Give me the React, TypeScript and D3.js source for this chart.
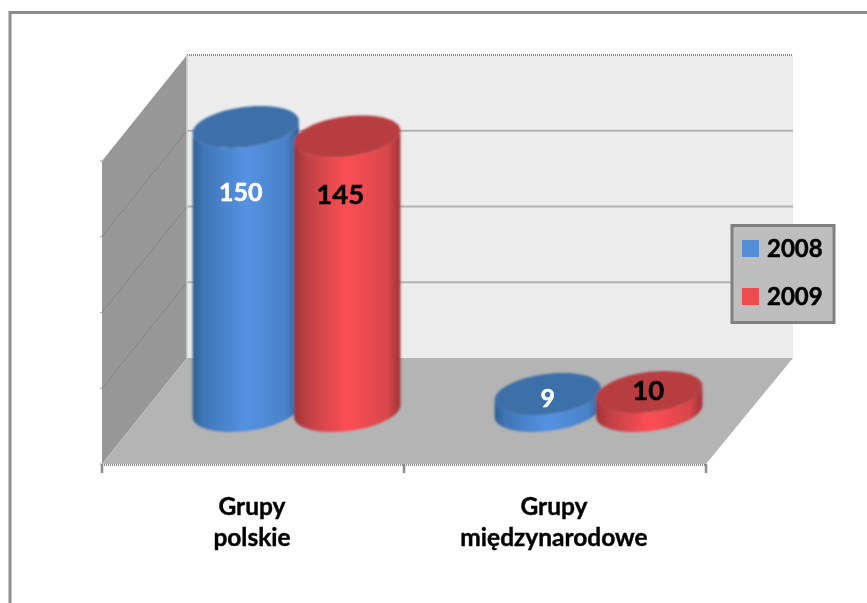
import React from "react";
import * as d3 from "d3";

const categories = [["Grupy", "polskie"], ["Grupy", "międzynarodowe"]];
const seriesNames = ["2008", "2009"];
const values2008 = [150, 9];
const values2009 = [145, 10];
const axisMax = 160;
const gridValues = [0, 40, 80, 120, 160];
const seriesValues = [values2008, values2009];
const labelColors = ["#ffffff", "#000000"];
const labelSizes = [25, 27.5];
// [series][category]: data label offset from the centre of the cylinder's top
const labelShift = [[[-5, 74], [0, 13]], [[-7, 68], [-1, 8]]];

const W = 867, H = 603;
const wall = { x0: 187, x1: 793, top: 55, bottom: 358 };
const front = { x0: 102, x1: 706, y: 464 };
const depthDx = wall.x0 - front.x0;
const midY = (wall.bottom + front.y) / 2;

const y = d3.scaleLinear().domain([0, axisMax]).range([wall.bottom, wall.top]);
const xFront = d3.scaleBand<number>().domain([0, 1]).range([front.x0, front.x1]);
const xSeries = d3.scaleBand<number>().domain([0, 1]).range([-100.5, 102.5]);

const ax = 51, sk = 15, ry = 21;
const ptAt = (cx: number, cy: number, t: number): [number, number] => [
  cx + ax * Math.cos(t) + sk * Math.sin(t),
  cy - ry * Math.sin(t),
];
const tMax = Math.atan2(sk, ax);
const line = d3.line<number[]>().x(d => d[0]).y(d => d[1]);
const ts = d3.range(0, 73).map(i => (i / 72) * 2 * Math.PI);
const ellipseD = (cx: number, cy: number) => line(ts.map(t => ptAt(cx, cy, t))) + "Z";
const sideD = (cx: number, top: number, base: number) => {
  const low = d3.range(0, 37).map(i => tMax + Math.PI + (i / 36) * Math.PI);
  const basePts = low.map(t => ptAt(cx, base, t));
  const topPts = low.slice().reverse().map(t => ptAt(cx, top, t));
  return line([...basePts, ...topPts]) + "Z";
};

const sideStops = [
  [["0%", "#2f5f92"], ["10%", "#3f76b8"], ["50%", "#5592e2"], ["88%", "#4a82c8"], ["100%", "#2f5f92"]],
  [["0%", "#9e3337"], ["12%", "#c04045"], ["50%", "#fd4f54"], ["88%", "#d8464b"], ["100%", "#9e3337"]],
];
const topColors = ["#3e70a8", "#b83c40"];
const legendColors = ["#558ed5", "#ee4b50"];
const FONT = "Lato, 'Open Sans', sans-serif";

const cylX = (c: number, s: number) =>
  xFront(c)! + xFront.bandwidth() / 2 + depthDx / 2 + xSeries(s)! + xSeries.bandwidth() / 2;
const cylTop = (v: number) => midY - (wall.bottom - y(v));

export default function App() {
  return (
    <svg width={W} height={H} viewBox={`0 0 ${W} ${H}`} style={{ position: "fixed", left: 0, top: 0 }}>
      <defs>
        <pattern id="dither" width="2" height="2" patternUnits="userSpaceOnUse">
          <rect width="2" height="2" fill="#9b9b9b" />
          <rect width="1" height="1" fill="#949494" />
          <rect x="1" y="1" width="1" height="1" fill="#949494" />
        </pattern>
        <filter id="soft" x="-5%" y="-5%" width="110%" height="110%">
          <feGaussianBlur stdDeviation="0.8" />
        </filter>
        <filter id="softText" x="-5%" y="-5%" width="110%" height="110%">
          <feGaussianBlur stdDeviation="0.3" />
        </filter>
        {sideStops.map((stops, i) => (
          <linearGradient key={i} id={`side${i}`} x1="0" x2="1" y1="0" y2="0">
            {stops.map(([o, c]) => <stop key={o} offset={o} stopColor={c} />)}
          </linearGradient>
        ))}
      </defs>
      <rect width={W} height={H} fill="#fff" />
      <path d={`M10,${H}V12.5H${W}`} fill="none" stroke="#8c8c8c" strokeWidth={3} />

      <rect x={wall.x0} y={wall.top} width={wall.x1 - wall.x0} height={wall.bottom - wall.top} fill="#ececec" />
      <path
        d={`M${wall.x0},${wall.top}L${front.x0},${wall.top + front.y - wall.bottom}V${front.y}L${wall.x0},${wall.bottom}Z`}
        fill="url(#dither)"
      />
      <path d={`M${wall.x0},${wall.bottom}H${wall.x1}L${front.x1},${front.y}H${front.x0}Z`} fill="#b4b4b4" />

      {gridValues.map(v => (
        <g key={v}>
          {v > 0 && v < axisMax && (
            <>
              <line x1={wall.x0} x2={wall.x1} y1={y(v)} y2={y(v)} stroke="#b2b2b2" strokeWidth={2} />
              <line x1={wall.x0} y1={y(v)} x2={front.x0} y2={y(v) + front.y - wall.bottom} stroke="#858585" strokeWidth={1} />
            </>
          )}
          <line x1={front.x0 - 2} x2={front.x0} y1={y(v) + front.y - wall.bottom} y2={y(v) + front.y - wall.bottom} stroke="#a8a8a8" strokeWidth={1} />
        </g>
      ))}
      <line x1={wall.x0} x2={wall.x1} y1={wall.top} y2={wall.top} stroke="#8c8c8c" strokeWidth={2} strokeDasharray="1 1" />
      <line x1={wall.x0} x2={wall.x0} y1={wall.top} y2={wall.bottom} stroke="#cfcfcf" strokeWidth={1.5} />
      <line x1={front.x0} x2={front.x1} y1={front.y + 1} y2={front.y + 1} stroke="#8c8c8c" strokeWidth={2} strokeDasharray="1 1" />
      {[0, 1, 2].map(i => {
        const xt = front.x0 + i * xFront.bandwidth();
        return <line key={i} x1={xt} x2={xt} y1={front.y} y2={front.y + 9} stroke="#8c8c8c" strokeWidth={2.5} />;
      })}

      <g filter="url(#soft)">
        {[0, 1].map(c =>
          seriesValues.map((vals, s) => (
            <g key={`${c}-${s}`}>
              <path d={sideD(cylX(c, s), cylTop(vals[c]), midY)} fill={`url(#side${s})`} />
              <path d={ellipseD(cylX(c, s), cylTop(vals[c]))} fill={topColors[s]} />
            </g>
          ))
        )}
      </g>

      <g filter="url(#softText)">
        {[0, 1].map(c =>
          seriesValues.map((vals, s) => (
            <text
              key={`${c}-${s}`}
              x={cylX(c, s) + labelShift[s][c][0]}
              y={cylTop(vals[c]) + labelShift[s][c][1]}
              textAnchor="middle"
              fontFamily={FONT}
              fontWeight={700}
              fontSize={labelSizes[s]}
              fill={labelColors[s]}
              stroke={labelColors[s]}
              strokeWidth={0.5}
            >
              {vals[c]}
            </text>
          ))
        )}
        {categories.map((lines, c) => (
          <text key={c} textAnchor="middle" fontFamily={FONT} fontWeight={700} fontSize={24.5} fill="#000" stroke="#000" strokeWidth={0.4}>
            {lines.map((l, i) => (
              <tspan key={i} x={xFront(c)! + xFront.bandwidth() / 2 - 1} y={515 + i * 31}>{l}</tspan>
            ))}
          </text>
        ))}
        <rect x={732} y={225.5} width={102} height={97} fill="#bebebe" stroke="#808080" strokeWidth={3} />
        {seriesNames.map((n, i) => (
          <g key={n}>
            <rect x={742} y={240 + i * 48} width={17} height={17} fill={legendColors[i]} />
            <text x={767} y={257 + i * 48} fontFamily={FONT} fontWeight={700} fontSize={24} fill="#000" stroke="#000" strokeWidth={0.5}>{n}</text>
          </g>
        ))}
      </g>
    </svg>
  );
}
